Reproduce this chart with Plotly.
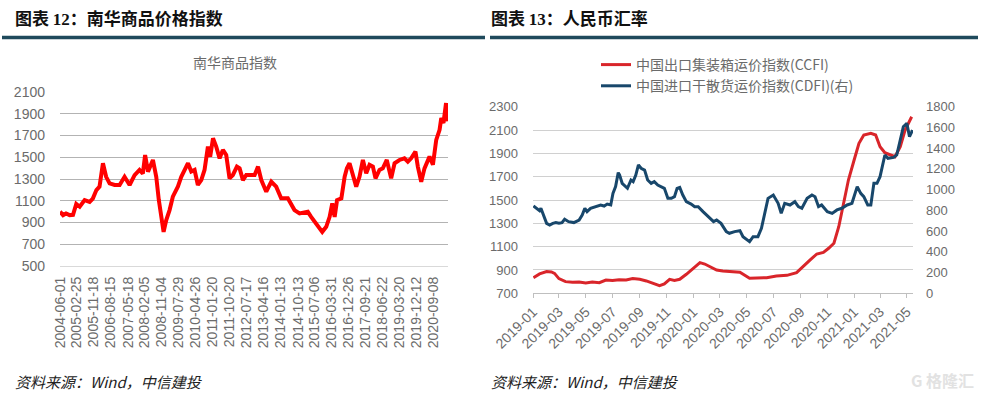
import plotly.graph_objects as go

# ---------------- Data: 南华商品指数 ----------------
nh_dates = [
    "2004-06-01", "2004-07-20", "2004-09-05", "2004-11-01", "2004-12-25",
    "2005-02-15", "2005-04-10", "2005-06-28", "2005-09-15", "2005-11-05",
    "2006-01-01", "2006-02-20", "2006-04-15", "2006-06-05", "2006-07-30",
    "2006-10-18", "2007-01-05", "2007-03-25", "2007-06-13", "2007-09-01",
    "2007-11-18", "2008-01-10", "2008-02-15", "2008-04-01", "2008-06-18",
    "2008-08-10", "2008-09-20", "2008-10-30", "2008-12-05", "2009-01-15",
    "2009-03-10", "2009-05-01", "2009-07-20", "2009-09-12", "2009-11-28",
    "2009-12-28", "2010-02-18", "2010-04-12", "2010-06-03", "2010-07-27",
    "2010-09-17", "2010-11-10", "2010-12-16", "2011-01-30", "2011-03-22",
    "2011-05-15", "2011-07-06", "2011-08-28", "2011-10-20", "2011-12-12",
    "2012-02-14", "2012-03-28", "2012-05-20", "2012-07-12", "2012-09-03",
    "2012-11-22", "2013-01-15", "2013-03-08", "2013-05-26", "2013-08-14",
    "2013-10-31", "2014-01-18", "2014-05-04", "2014-08-18", "2014-11-06",
    "2015-03-18", "2015-05-10", "2015-07-30", "2015-11-03", "2016-01-05",
    "2016-02-28", "2016-04-10", "2016-05-18", "2016-06-25", "2016-09-02",
    "2016-10-24", "2016-11-29", "2017-01-10", "2017-03-04", "2017-04-26",
    "2017-06-18", "2017-08-10", "2017-10-02", "2017-11-24", "2018-01-16",
    "2018-02-27", "2018-05-01", "2018-06-23", "2018-08-25", "2018-11-03",
    "2018-12-27", "2019-03-15", "2019-06-02", "2019-07-26", "2019-09-17",
    "2019-11-24", "2020-01-01", "2020-02-24", "2020-04-16", "2020-07-05",
    "2020-08-28", "2020-10-20", "2020-12-12", "2021-01-08", "2021-02-12",
    "2021-03-25", "2021-04-22",
]
nh_values = [
    1000, 968, 983, 968, 970,
    1070, 1045, 1106, 1090, 1120,
    1198, 1230, 1445, 1320, 1260,
    1245, 1245, 1320, 1245, 1335,
    1383, 1350, 1520, 1368, 1475,
    1320, 1106, 920, 814, 920,
    1014, 1137, 1230, 1320, 1414,
    1445, 1368, 1383, 1245, 1290,
    1383, 1598, 1505, 1675, 1598,
    1490, 1568, 1521, 1306, 1337,
    1414, 1398, 1290, 1337, 1337,
    1337, 1414, 1290, 1183, 1275,
    1230, 1122, 1122, 1014, 983,
    998, 952, 891, 814, 860,
    952, 1075, 952, 1106, 1122,
    1322, 1398, 1445, 1322, 1230,
    1322, 1475, 1352, 1430, 1414,
    1306, 1383, 1398, 1475, 1306,
    1445, 1475, 1490, 1460, 1490,
    1552, 1414, 1275, 1398, 1506,
    1430, 1660, 1752, 1860, 1814,
    1998, 1830,
]
nh_tick_labels = [
    "2004-06-01", "2005-02-25", "2005-11-18", "2006-08-15", "2007-05-18",
    "2008-02-05", "2008-11-04", "2009-07-29", "2010-04-26", "2011-01-20",
    "2011-10-20", "2012-07-17", "2013-04-16", "2014-01-13", "2014-10-13",
    "2015-07-06", "2016-03-31", "2016-12-26", "2017-09-21", "2018-06-22",
    "2019-03-20", "2019-12-12", "2020-09-08",
]

# ---------------- Data: CCFI (left axis) ----------------
ccfi_dates = [
    "2019-01-02", "2019-01-16", "2019-02-01", "2019-02-12", "2019-02-19",
    "2019-03-01", "2019-03-16", "2019-04-01", "2019-04-16", "2019-05-01",
    "2019-05-16", "2019-06-01", "2019-06-16", "2019-07-01", "2019-07-16",
    "2019-08-01", "2019-08-16", "2019-09-01", "2019-09-16", "2019-10-01",
    "2019-10-16", "2019-10-27", "2019-11-08", "2019-11-19", "2019-12-01",
    "2019-12-16", "2020-01-01", "2020-01-16", "2020-01-27", "2020-02-08",
    "2020-02-23", "2020-03-08", "2020-03-23", "2020-04-16", "2020-05-08",
    "2020-05-23", "2020-06-16", "2020-07-08", "2020-08-01", "2020-08-23",
    "2020-09-08", "2020-09-23", "2020-10-08", "2020-10-23", "2020-11-04",
    "2020-11-16", "2020-11-27", "2020-12-08", "2020-12-19", "2021-01-01",
    "2021-01-12", "2021-01-23", "2021-02-08", "2021-02-19", "2021-03-01",
    "2021-03-12", "2021-03-23", "2021-04-04", "2021-04-16", "2021-04-27",
    "2021-05-12",
]
ccfi_values = [
    834, 866, 886, 883, 871,
    826, 800, 794, 797, 789,
    797, 791, 814, 809, 817,
    814, 826, 820, 806, 786,
    766, 780, 820, 811, 820,
    863, 911, 963, 951, 926,
    900, 891, 885, 880, 829,
    829, 834, 849, 854, 877,
    929, 986, 1037, 1051, 1086,
    1129, 1271, 1471, 1671, 1843,
    1986, 2057, 2071, 2057, 1957,
    1906, 1886, 1871, 1957, 2100,
    2214,
]

# ---------------- Data: CDFI (right axis) ----------------
cdfi_dates = [
    "2019-01-02", "2019-01-08", "2019-01-16", "2019-01-19", "2019-01-23",
    "2019-02-01", "2019-02-08", "2019-02-15", "2019-02-22", "2019-03-01",
    "2019-03-08", "2019-03-14", "2019-03-23", "2019-04-04", "2019-04-16",
    "2019-04-23", "2019-04-29", "2019-05-04", "2019-05-12", "2019-05-23",
    "2019-06-04", "2019-06-12", "2019-06-19", "2019-06-27", "2019-07-02",
    "2019-07-08", "2019-07-14", "2019-07-17", "2019-07-23", "2019-08-04",
    "2019-08-12", "2019-08-17", "2019-08-23", "2019-08-29", "2019-09-04",
    "2019-09-12", "2019-09-19", "2019-09-27", "2019-10-04", "2019-10-12",
    "2019-10-19", "2019-10-27", "2019-11-04", "2019-11-12", "2019-11-19",
    "2019-11-25", "2019-12-01", "2019-12-08", "2019-12-16", "2019-12-27",
    "2020-01-04", "2020-01-12", "2020-01-23", "2020-02-04", "2020-02-16",
    "2020-02-23", "2020-03-04", "2020-03-16", "2020-03-23", "2020-04-04",
    "2020-04-16", "2020-04-23", "2020-05-08", "2020-05-16", "2020-05-27",
    "2020-06-04", "2020-06-12", "2020-06-19", "2020-07-01", "2020-07-12",
    "2020-07-19", "2020-07-27", "2020-08-08", "2020-08-19", "2020-08-27",
    "2020-09-04", "2020-09-16", "2020-09-27", "2020-10-04", "2020-10-12",
    "2020-10-19", "2020-11-01", "2020-11-12", "2020-11-23", "2020-12-04",
    "2020-12-16", "2020-12-27", "2021-01-08", "2021-01-16", "2021-01-23",
    "2021-02-01", "2021-02-08", "2021-02-15", "2021-02-22", "2021-03-01",
    "2021-03-07", "2021-03-12", "2021-03-19", "2021-04-01", "2021-04-08",
    "2021-04-16", "2021-04-23", "2021-05-01", "2021-05-07", "2021-05-14",
]
cdfi_values = [
    842, 820, 797, 820, 771,
    675, 659, 675, 682, 675,
    682, 714, 691, 682, 707,
    755, 820, 788, 820, 836,
    852, 842, 861, 852, 964,
    1029, 1164, 1142, 1061, 1013,
    1093, 1077, 1141, 1238, 1206,
    1189, 1093, 1061, 1077, 1045,
    1029, 1013, 916, 916, 932,
    1013, 1022, 948, 884, 861,
    836, 836, 788, 739, 691,
    707, 675, 595, 579, 595,
    604, 546, 498, 546, 546,
    627, 771, 916, 948, 868,
    771, 868, 852, 884, 836,
    820, 916, 948, 932, 836,
    852, 788, 771, 804, 820,
    852, 868, 1029, 964, 932,
    852, 852, 1061, 1061, 1125,
    1238, 1334, 1302, 1311, 1334,
    1495, 1607, 1639, 1511, 1575,
]
right_tick_vals = [
    "2019-01-01", "2019-03-01", "2019-05-01", "2019-07-01", "2019-09-01",
    "2019-11-01", "2020-01-01", "2020-03-01", "2020-05-01", "2020-07-01",
    "2020-09-01", "2020-11-01", "2021-01-01", "2021-03-01", "2021-05-01",
]
right_tick_text = [d[:7] for d in right_tick_vals]

# ---------------- Figure ----------------
W, H = 983, 398
GRAY_TXT = "#6b6b6b"
FONT = "Liberation Sans, Arial, sans-serif"
CJK = "Noto Sans CJK SC"

def px_x(x):
    return x / W

def px_y(y):
    return 1 - y / H

fig = go.Figure()

fig.add_trace(go.Scatter(
    x=nh_dates, y=nh_values, mode="lines",
    line=dict(color="#ff0000", width=4),
    xaxis="x", yaxis="y", showlegend=False,
))
fig.add_trace(go.Scatter(
    x=ccfi_dates, y=ccfi_values, mode="lines",
    name="中国出口集装箱运价指数(CCFI)",
    line=dict(color="#d9252a", width=3),
    xaxis="x2", yaxis="y2",
))
fig.add_trace(go.Scatter(
    x=cdfi_dates, y=cdfi_values, mode="lines",
    name="中国进口干散货运价指数(CDFI)(右)",
    line=dict(color="#18476b", width=3),
    xaxis="x2", yaxis="y3",
))

fig.update_layout(
    width=W, height=H,
    margin=dict(l=0, r=0, t=0, b=0, autoexpand=False),
    paper_bgcolor="white", plot_bgcolor="white",
    font=dict(family=FONT, size=14, color=GRAY_TXT),
    xaxis=dict(
        domain=[px_x(60), px_x(448)],
        type="date", automargin=False,
        range=["2004-06-01", "2021-04-25"],
        tickmode="array", tickvals=nh_tick_labels, ticktext=nh_tick_labels,
        tickangle=-90, tickfont=dict(size=14, color=GRAY_TXT, family=FONT),
        showgrid=False, zeroline=False,
        showline=True, linecolor="#d9d9d9", linewidth=1,
        ticks="", ticklabelstandoff=4,
        anchor="y",
    ),
    yaxis=dict(
        domain=[px_y(266), px_y(92)], automargin=False,
        range=[500, 2100], dtick=200, tick0=500,
        showgrid=True, gridcolor="#b3b3b3", gridwidth=1,
        zeroline=False, showline=False,
        tickfont=dict(size=14, color=GRAY_TXT, family=FONT),
        ticks="", ticklabelstandoff=14,
        anchor="x",
    ),
    xaxis2=dict(
        domain=[px_x(533), px_x(913)],
        type="date", automargin=False,
        range=["2019-01-01", "2021-05-15"],
        tickmode="array", tickvals=right_tick_vals, ticktext=right_tick_text,
        tickangle=-45, tickfont=dict(size=14, color=GRAY_TXT, family=FONT),
        showgrid=False, zeroline=False,
        showline=True, linecolor="#bfbfbf", linewidth=1,
        ticks="outside", ticklen=4, tickcolor="#bfbfbf",
        anchor="y2",
    ),
    yaxis2=dict(
        domain=[px_y(293.3), px_y(106.7)], automargin=False,
        range=[700, 2300], dtick=200, tick0=700,
        showgrid=True, gridcolor="#d0d0d0", gridwidth=1,
        zeroline=False, showline=False,
        tickfont=dict(size=13, color=GRAY_TXT, family=FONT),
        ticks="", ticklabelstandoff=14,
        anchor="x2",
    ),
    yaxis3=dict(
        domain=[px_y(293.3), px_y(106.7)], automargin=False,
        range=[0, 1800], dtick=200, tick0=0,
        overlaying="y2", side="right",
        showgrid=False, zeroline=False, showline=False,
        tickfont=dict(size=13, color=GRAY_TXT, family=FONT),
        ticks="", ticklabelstandoff=12,
        anchor="x2",
    ),
    legend=dict(
        x=px_x(596), y=px_y(49), xanchor="left", yanchor="top",
        font=dict(size=14, color=GRAY_TXT, family=CJK),
        bgcolor="rgba(0,0,0,0)", itemwidth=30, tracegroupgap=0,
    ),
    showlegend=True,
)

# header rules
for x0, x1 in [(2, 485), (490, 978)]:
    fig.add_shape(type="line", xref="paper", yref="paper",
                  x0=px_x(x0), x1=px_x(x1), y0=px_y(37.5), y1=px_y(37.5),
                  line=dict(color="#1f4a5c", width=3.5))

annotations = [
    dict(text="<b>图表 <span style='font-family:Liberation Serif'>12</span>：南华商品价格指数</b>",
         x=px_x(13), y=px_y(18), xanchor="left", yanchor="middle",
         font=dict(size=17, color="#111111", family=CJK)),
    dict(text="<b>图表 <span style='font-family:Liberation Serif'>13</span>：人民币汇率</b>",
         x=px_x(489), y=px_y(18), xanchor="left", yanchor="middle",
         font=dict(size=17, color="#111111", family=CJK)),
    dict(text="南华商品指数", x=px_x(235), y=px_y(62), xanchor="center", yanchor="middle",
         font=dict(size=14, color=GRAY_TXT, family=CJK)),
    dict(text="<i>资料来源：Wind，中信建投</i>", x=px_x(13), y=px_y(381),
         xanchor="left", yanchor="middle",
         font=dict(size=15, color="#222222", family=CJK)),
    dict(text="<i>资料来源：Wind，中信建投</i>", x=px_x(489), y=px_y(381),
         xanchor="left", yanchor="middle",
         font=dict(size=15, color="#222222", family=CJK)),
    dict(text="<b>G 格隆汇</b>", x=px_x(976), y=px_y(380), xanchor="right", yanchor="middle",
         font=dict(size=16, color="#e2e2e2", family=CJK)),
]
for a in annotations:
    a.update(xref="paper", yref="paper", showarrow=False)
fig.update_layout(annotations=annotations)

fig.write_html("out.html", config={"displayModeBar": False},
               post_script="document.body.style.margin='0';")
